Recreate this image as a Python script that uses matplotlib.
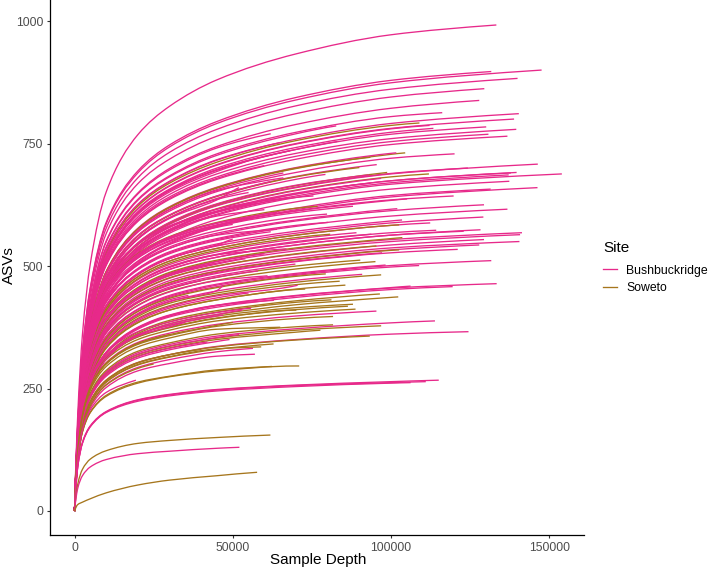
# rarefaction curves, one line per sample
import matplotlib
matplotlib.use("Agg")
import matplotlib.pyplot as plt
from matplotlib.lines import Line2D
from matplotlib.patches import PathPatch
from matplotlib.path import Path

plt.rcParams['font.family'] = ['Liberation Sans', 'DejaVu Sans']

depth_grid = [1000, 2500, 5000, 10000, 20000, 30000, 45000, 70000, 100000]

# B = Bushbuckridge, S = Soweto, in step with end_depth
sites = ("BBBBBBBBBS" "BBBBBBBBSB" "BSBSBBBBBS" "BSBBBBBBBB" "BBBBBBBBBS"
         "BBBBBBBBSB" "BBBBBBBSBB" "SBSSBBSSBB" "BBBBBBBBBB" "BBSBSSSBBB"
         "BSSSSSSSSB" "SBSSSBSSBB" "BBBBBBBBBB" "BBBBBSBSB" "BBBBSSSSSS" "BBBBSBS")

# last depth of each curve
end_depth = [
    133300, 147600, 131700, 140000, 129500, 127900, 116200, 140400, 138900, 109000,
    112200, 113400, 130100, 139600, 130800, 136800, 83000, 82700, 104500, 101700,
    120100, 93500, 95500, 90000, 146400, 124300, 139700, 137900, 154000, 112000,
    137200, 98800, 93100, 79300, 96900, 93500, 137400, 131500, 146300, 65000,
    68000, 60000, 66000, 62000, 55000, 119800, 105100, 75500, 88000, 76800,
    129400, 102000, 136800, 79800, 129200, 103500, 112400, 80100, 102600, 114300,
    128300, 123000, 141400, 140800, 129400, 127900, 140600, 103600, 93800, 89100,
    80800, 121100, 95400, 102600, 97200, 131700, 90300, 95100, 108900, 98300,
    69800, 58000, 64000, 50000, 62000, 48000, 60000, 44000, 58000, 40000,
    55000, 36000, 79400, 90900, 96900, 83800, 85600, 133400, 119500, 106200,
    70500, 72900, 96500, 102300, 81200, 88000, 86400, 88800, 70100, 95400,
    81700, 113900, 81700, 96900, 77700, 124500, 93300, 62900, 56400, 55800,
    62000, 58000, 66000, 52000, 68000, 60000, 56000, 64000, 50000, 67000,
    54000, 61000, 47000, 63000, 53000, 65000, 49000, 59000, 57000,
    47000, 35000, 52000, 42000, 40000, 30000, 25000, 50000, 71000, 62400,
    115100, 111000, 106200, 19400, 61900, 52100, 57700,
]

# ASVs at each depth_grid value below the end depth, then the value at the end
asvs = [
    [194, 360, 505, 651, 768, 826, 880, 933, 972, 992],
    [175, 323, 454, 586, 690, 743, 791, 839, 874, 900],
    [176, 325, 457, 589, 694, 747, 795, 844, 879, 897],
    [172, 319, 448, 577, 680, 732, 779, 827, 861, 883],
    [169, 313, 439, 566, 668, 718, 765, 811, 845, 862],
    [164, 304, 427, 551, 649, 699, 744, 789, 822, 838],
    [161, 298, 419, 539, 636, 684, 729, 773, 805, 813],
    [158, 293, 411, 530, 625, 672, 716, 759, 791, 811],
    [156, 289, 406, 523, 617, 664, 707, 750, 781, 800],
    [157, 291, 409, 527, 622, 669, 712, 756, 787, 792],
    [156, 289, 406, 523, 616, 663, 706, 749, 780, 787],
    [155, 286, 402, 518, 611, 657, 700, 742, 773, 781],
    [154, 285, 400, 515, 608, 654, 696, 738, 769, 784],
    [152, 281, 395, 509, 600, 646, 688, 730, 760, 779],
    [151, 279, 392, 505, 596, 641, 682, 724, 754, 769],
    [150, 277, 389, 501, 591, 636, 677, 718, 748, 765],
    [154, 285, 400, 515, 608, 654, 696, 738, 754],
    [160, 297, 417, 537, 634, 682, 726, 770, 786],
    [146, 269, 379, 488, 575, 619, 659, 699, 728, 731],
    [146, 270, 380, 489, 577, 621, 661, 701, 730, 731],
    [144, 266, 374, 482, 569, 612, 652, 691, 720, 729],
    [146, 270, 379, 488, 576, 620, 660, 700, 722],
    [142, 263, 370, 476, 562, 604, 643, 683, 707],
    [142, 263, 369, 476, 561, 603, 642, 682, 701],
    [138, 255, 358, 461, 544, 585, 623, 660, 688, 708],
    [138, 255, 358, 462, 544, 586, 624, 661, 689, 700],
    [135, 249, 350, 452, 532, 573, 610, 647, 674, 691],
    [135, 249, 350, 452, 532, 573, 610, 647, 674, 690],
    [133, 247, 347, 447, 527, 567, 604, 640, 667, 688],
    [136, 252, 355, 457, 539, 580, 617, 655, 682, 688],
    [134, 248, 348, 449, 529, 570, 606, 643, 670, 686],
    [138, 256, 360, 464, 547, 588, 626, 664, 691],
    [139, 256, 360, 464, 547, 589, 627, 665, 686],
    [141, 261, 367, 472, 557, 599, 638, 677, 687],
    [136, 252, 354, 456, 538, 579, 616, 654, 679],
    [135, 250, 352, 453, 534, 575, 612, 649, 669],
    [131, 243, 342, 440, 519, 558, 595, 631, 657, 673],
    [129, 238, 335, 431, 509, 547, 583, 618, 644, 657],
    [128, 237, 333, 429, 506, 545, 580, 615, 641, 660],
    [158, 293, 412, 531, 626, 673, 717, 752],
    [154, 285, 400, 516, 608, 655, 697, 735],
    [150, 278, 390, 503, 593, 638, 679, 705],
    [145, 268, 377, 486, 573, 616, 656, 690],
    [142, 263, 370, 476, 562, 604, 643, 672],
    [141, 260, 366, 471, 555, 598, 636, 650],
    [152, 267, 362, 451, 521, 556, 584, 613, 635, 643],
    [152, 266, 361, 450, 520, 555, 583, 612, 634, 637],
    [159, 278, 378, 471, 544, 580, 610, 640, 643],
    [151, 265, 360, 448, 517, 552, 581, 609, 622],
    [154, 269, 365, 454, 525, 560, 589, 618, 622],
    [147, 257, 349, 435, 503, 536, 564, 592, 613, 625],
    [148, 259, 351, 437, 505, 539, 567, 594, 616, 617],
    [144, 253, 343, 427, 494, 527, 554, 581, 602, 616],
    [149, 261, 355, 442, 510, 544, 572, 600, 606],
    [141, 247, 335, 417, 482, 515, 541, 567, 588, 600],
    [142, 249, 337, 420, 485, 518, 545, 571, 592, 594],
    [140, 245, 332, 414, 478, 510, 536, 563, 583, 588],
    [145, 254, 344, 429, 495, 529, 556, 583, 589],
    [140, 245, 332, 414, 478, 510, 536, 563, 583, 584],
    [136, 239, 324, 403, 466, 497, 523, 548, 568, 573],
    [135, 236, 321, 400, 462, 493, 518, 543, 563, 574],
    [135, 236, 321, 400, 462, 493, 518, 543, 563, 571],
    [133, 233, 316, 393, 454, 485, 510, 535, 554, 568],
    [132, 231, 314, 391, 451, 481, 506, 531, 550, 564],
    [130, 228, 310, 386, 445, 475, 500, 524, 543, 554],
    [128, 224, 304, 378, 437, 466, 490, 514, 533, 543],
    [129, 226, 306, 381, 440, 470, 494, 518, 537, 550],
    [133, 234, 317, 395, 456, 487, 512, 537, 556, 558],
    [137, 239, 325, 405, 467, 499, 524, 550, 565],
    [138, 242, 328, 408, 472, 503, 529, 555, 568],
    [139, 243, 329, 410, 474, 506, 532, 558, 565],
    [126, 221, 300, 374, 432, 461, 485, 509, 527, 534],
    [131, 228, 310, 386, 446, 476, 500, 525, 541],
    [128, 223, 303, 378, 436, 466, 489, 513, 532, 533],
    [127, 222, 302, 376, 434, 463, 487, 510, 527],
    [120, 210, 286, 356, 411, 438, 461, 483, 501, 511],
    [124, 218, 295, 368, 425, 453, 477, 500, 512],
    [123, 215, 292, 364, 420, 448, 471, 494, 509],
    [120, 209, 284, 354, 408, 436, 458, 481, 498, 501],
    [121, 211, 287, 357, 412, 440, 463, 485, 502],
    [125, 219, 298, 371, 428, 457, 480, 504],
    [160, 279, 379, 472, 545, 582, 612, 628],
    [153, 268, 364, 454, 524, 559, 588, 610],
    [151, 264, 359, 447, 516, 550, 579, 585],
    [144, 252, 342, 426, 492, 525, 552, 570],
    [141, 247, 336, 418, 483, 515, 542, 545],
    [133, 232, 315, 393, 453, 484, 509, 525],
    [132, 232, 315, 392, 453, 483, 505],
    [125, 218, 296, 368, 426, 454, 477, 490],
    [125, 218, 296, 368, 426, 454, 470],
    [114, 199, 270, 336, 388, 414, 435, 445],
    [118, 207, 280, 349, 403, 431, 440],
    [119, 208, 283, 352, 407, 434, 456, 479, 484],
    [117, 205, 278, 346, 400, 427, 449, 471, 483],
    [116, 203, 276, 344, 397, 424, 445, 467, 482],
    [115, 201, 273, 340, 393, 419, 441, 462, 469],
    [113, 197, 267, 333, 385, 410, 431, 453, 461],
    [109, 191, 259, 323, 373, 398, 419, 439, 455, 464],
    [108, 190, 258, 321, 371, 396, 416, 436, 452, 458],
    [109, 192, 260, 324, 374, 399, 420, 440, 456, 459],
    [114, 200, 272, 339, 391, 417, 439, 460, 461],
    [112, 197, 267, 332, 384, 410, 431, 452, 453],
    [107, 187, 254, 316, 365, 389, 409, 429, 443],
    [105, 183, 249, 310, 358, 382, 401, 421, 436, 437],
    [106, 185, 251, 313, 362, 386, 406, 426, 431],
    [124, 205, 265, 317, 360, 379, 398, 415, 422],
    [123, 204, 263, 314, 356, 375, 394, 411, 418],
    [121, 200, 259, 309, 350, 369, 388, 404, 412],
    [123, 203, 262, 313, 355, 374, 393, 410, 410],
    [119, 197, 254, 303, 344, 363, 381, 398, 408],
    [117, 194, 251, 300, 340, 358, 377, 393, 397],
    [111, 184, 238, 284, 323, 340, 357, 372, 384, 388],
    [113, 186, 241, 287, 326, 343, 361, 376, 380],
    [110, 182, 236, 281, 319, 336, 353, 369, 378],
    [109, 180, 233, 278, 316, 333, 350, 365, 369],
    [105, 173, 224, 267, 303, 319, 336, 350, 361, 366],
    [104, 173, 223, 266, 302, 319, 335, 349, 357],
    [103, 170, 220, 263, 298, 314, 330, 341],
    [101, 168, 216, 258, 293, 309, 325, 332],
    [126, 209, 270, 323, 366, 386, 405, 414],
    [164, 303, 426, 549, 647, 696, 741, 770],
    [153, 283, 398, 513, 605, 651, 693, 720],
    [145, 268, 376, 484, 571, 615, 654, 680],
    [140, 260, 365, 470, 555, 597, 635, 660],
    [136, 252, 354, 456, 538, 579, 616, 640],
    [157, 275, 373, 464, 536, 572, 602, 615],
    [153, 268, 364, 453, 523, 558, 587, 600],
    [147, 257, 349, 435, 502, 536, 563, 575],
    [142, 248, 336, 419, 484, 516, 543, 555],
    [137, 239, 324, 404, 467, 498, 523, 535],
    [132, 230, 312, 389, 449, 480, 504, 515],
    [123, 215, 291, 363, 419, 447, 470, 480],
    [117, 205, 279, 347, 401, 428, 450, 460],
    [110, 192, 260, 324, 375, 400, 420, 430],
    [105, 183, 249, 310, 358, 382, 401, 410],
    [116, 192, 247, 295, 335, 353, 371, 375],
    [108, 179, 231, 275, 312, 329, 346, 350],
    [103, 171, 221, 263, 299, 315, 331, 335],
    [99, 163, 211, 252, 286, 301, 316, 320],
    [124, 205, 265, 317, 360, 379, 398, 400],
    [123, 204, 264, 315, 357, 376, 385],
    [110, 183, 236, 282, 320, 337, 354, 360],
    [109, 180, 233, 278, 315, 332, 345],
    [105, 173, 224, 267, 303, 319, 330],
    [118, 195, 252, 301, 342, 360],
    [101, 167, 215, 257, 291, 300],
    [118, 195, 252, 301, 342, 360, 379, 385],
    [103, 161, 201, 234, 261, 274, 286, 296, 296],
    [104, 162, 202, 236, 263, 275, 288, 295],
    [90, 140, 174, 203, 227, 238, 248, 257, 264, 267],
    [90, 139, 173, 202, 226, 237, 247, 256, 262, 264],
    [89, 138, 172, 201, 224, 235, 245, 254, 261, 262],
    [107, 166, 207, 242, 267],
    [54, 85, 106, 123, 138, 144, 150, 155],
    [46, 72, 90, 105, 117, 122, 128, 130],
    [13, 18, 25, 37, 53, 63, 72, 79],
]

site_colors = {"B": "#E7298A", "S": "#A6761D"}
site_names = {"B": "Bushbuckridge", "S": "Soweto"}


# line through the read values, drawn as bezier pieces so the corners don't show
def smooth_path(x, y):
    slopes = [(y[i + 1] - y[i]) / (x[i + 1] - x[i]) for i in range(len(x) - 1)]
    tangents = [slopes[0] * 1.4]
    for i in range(1, len(x) - 1):
        h0 = x[i] - x[i - 1]
        h1 = x[i + 1] - x[i]
        if slopes[i - 1] <= 0 or slopes[i] <= 0:
            tangents.append(0.0)
        else:
            w0 = 2 * h1 + h0
            w1 = h1 + 2 * h0
            tangents.append((w0 + w1) / (w0 / slopes[i - 1] + w1 / slopes[i]))
    tangents.append(slopes[-1] * 0.8)
    verts = [(x[0], y[0])]
    codes = [Path.MOVETO]
    for i in range(len(x) - 1):
        h = x[i + 1] - x[i]
        verts += [(x[i] + h / 3, y[i] + tangents[i] * h / 3),
                  (x[i + 1] - h / 3, y[i + 1] - tangents[i + 1] * h / 3),
                  (x[i + 1], y[i + 1])]
        codes += [Path.CURVE4, Path.CURVE4, Path.CURVE4]
    return Path(verts, codes)


fig = plt.figure(figsize=(7.09, 5.70), dpi=100)
ax = fig.add_axes([50 / 709, 35 / 570, 534 / 709, 535 / 570])

for site, end, row in zip(sites, end_depth, asvs):
    x = [0] + [g for g in depth_grid if g < end] + [end]
    y = [0] + row
    ax.add_patch(PathPatch(smooth_path(x, y), fill=False, edgecolor=site_colors[site], lw=0.95, capstyle="butt"))

ax.set_xlim(-7750, 161000)
ax.set_ylim(-49, 1043)
ax.set_xticks([0, 50000, 100000, 150000])
ax.set_yticks([0, 250, 500, 750, 1000])
ax.tick_params(labelsize=8.8, labelcolor="#4D4D4D", color="#333333", length=2.5, width=0.8, pad=2.5)
ax.spines["top"].set_visible(False)
ax.spines["right"].set_visible(False)
ax.spines["left"].set_linewidth(0.9)
ax.spines["bottom"].set_linewidth(0.9)
ax.set_xlabel("Sample Depth", fontsize=11)
ax.set_ylabel("ASVs", fontsize=11)
ax.xaxis.set_label_coords((318 - 50) / 534, -18 / 535)
ax.yaxis.set_label_coords(-34 / 534, (535 - 265) / 535)

handles = [Line2D([], [], color=site_colors[s], lw=0.95) for s in "BS"]
labels = [site_names[s] for s in "BS"]
leg = fig.legend(handles, labels, title="Site", loc="upper left", bbox_to_anchor=(592 / 709, 1 - 230 / 570),
                 frameon=False, fontsize=8.8, title_fontsize=11, alignment="left",
                 handlelength=1.15, handletextpad=0.75, labelspacing=0.42)
leg._legend_box.sep = 7

fig.savefig("out.png", dpi=100)
